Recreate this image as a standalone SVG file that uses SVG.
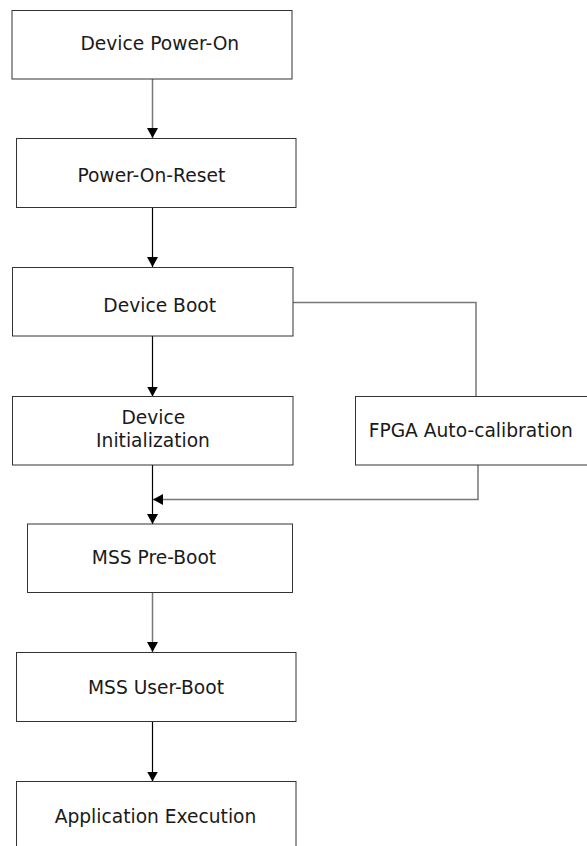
<svg xmlns="http://www.w3.org/2000/svg" width="587" height="846" viewBox="0 0 587 846">
  <style>
    .box { fill: #ffffff; stroke: #333333; stroke-width: 1; }
    .lbl { font-family: "DejaVu Sans", Verdana, sans-serif; font-size: 18.67px; fill: #1a1a1a; text-anchor: middle; }
    .wire { fill: none; stroke-width: 1.2; }
    .dark { stroke: #000000; }
    .grey { stroke: #777777; stroke-width: 1.5; }
  </style>
  <defs>
    <marker id="arrow" viewBox="0 0 10 11" refX="10" refY="5.5" markerWidth="10" markerHeight="11" orient="auto" markerUnits="userSpaceOnUse">
      <path d="M0,0 L10,5.5 L0,11 z" fill="#000000"/>
    </marker>
  </defs>
  <rect x="0" y="0" width="587" height="846" fill="#ffffff"/>

  <g id="connectors">
    <path class="wire grey" d="M152.5,79 V138" marker-end="url(#arrow)"/>
    <path class="wire dark" d="M152.5,207.5 V267" marker-end="url(#arrow)"/>
    <path class="wire dark" d="M152.5,336 V396.5" marker-end="url(#arrow)"/>
    <path class="wire grey" d="M293,302.5 H476 V396.5"/>
    <path class="wire dark" d="M152.5,465 V524" marker-end="url(#arrow)"/>
    <path class="wire grey" d="M478,465 V499.5 H153" marker-end="url(#arrow)"/>
    <path class="wire grey" d="M152.5,592.5 V652" marker-end="url(#arrow)"/>
    <path class="wire dark" d="M152.5,721.5 V781.5" marker-end="url(#arrow)"/>
  </g>

  <g id="device-power-on">
    <rect class="box" x="12" y="10.5" width="280" height="68.5"/>
    <text class="lbl" x="159.8" y="50">Device Power-On</text>
  </g>
  <g id="power-on-reset">
    <rect class="box" x="16.5" y="138.5" width="279.5" height="69"/>
    <text class="lbl" x="151.3" y="181.7">Power-On-Reset</text>
  </g>
  <g id="device-boot">
    <rect class="box" x="12.5" y="267.5" width="280.5" height="68.5"/>
    <text class="lbl" x="159.7" y="311.7">Device Boot</text>
  </g>
  <g id="device-initialization">
    <rect class="box" x="12.5" y="396.5" width="280.5" height="68.5"/>
    <text class="lbl" x="153.3" y="424">Device</text>
    <text class="lbl" x="153" y="446.7">Initialization</text>
  </g>
  <g id="fpga-auto-calibration">
    <rect class="box" x="355.5" y="396.5" width="240" height="68.5"/>
    <text class="lbl" x="470.8" y="436.7">FPGA Auto-calibration</text>
  </g>
  <g id="mss-pre-boot">
    <rect class="box" x="27.5" y="524" width="265" height="68.5"/>
    <text class="lbl" x="154" y="564">MSS Pre-Boot</text>
  </g>
  <g id="mss-user-boot">
    <rect class="box" x="16.5" y="652.5" width="279.5" height="69"/>
    <text class="lbl" x="156" y="694.3">MSS User-Boot</text>
  </g>
  <g id="application-execution">
    <rect class="box" x="16.5" y="781.5" width="279.5" height="80"/>
    <text class="lbl" x="155.5" y="822.7">Application Execution</text>
  </g>
</svg>
